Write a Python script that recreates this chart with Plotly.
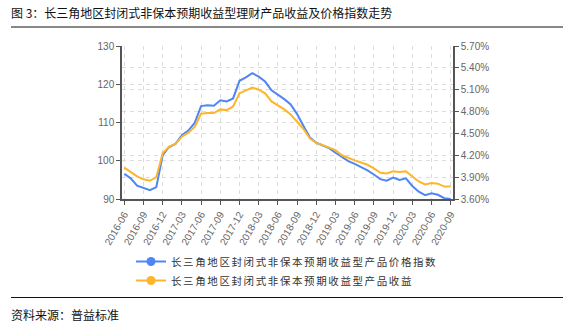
import plotly.graph_objects as go

# Monthly observations, 2016-06 .. 2020-09
months = [f"{y}-{m:02d}" for y in range(2016, 2021) for m in range(1, 13)]
months = months[months.index("2016-06"):months.index("2020-09") + 1]

price_index = [96.6, 95.4, 93.5, 92.8, 92.3, 93.1, 101.5, 103.6, 104.4, 106.7, 107.9, 109.9,
               114.3, 114.5, 114.4, 115.8, 115.5, 116.3, 120.9, 121.8, 122.9, 122.0, 120.7, 118.4,
               117.3, 116.1, 114.7, 112.2, 109.1, 106.1, 104.7, 103.9, 103.3, 102.1, 100.9, 99.9,
               99.2, 98.4, 97.5, 96.4, 95.2, 94.8, 95.6, 95.0, 95.4, 93.4, 91.9, 91.0,
               91.5, 91.1, 90.2, 90.0]

yield_pct = [4.03, 3.975, 3.91, 3.87, 3.85, 3.90, 4.23, 4.32, 4.355, 4.455, 4.51, 4.59,
             4.77, 4.78, 4.78, 4.83, 4.82, 4.87, 5.05, 5.09, 5.13, 5.10, 5.05, 4.94,
             4.89, 4.83, 4.76, 4.66, 4.56, 4.43, 4.37, 4.34, 4.31, 4.27, 4.20, 4.16,
             4.13, 4.10, 4.07, 4.02, 3.96, 3.95, 3.98, 3.97, 3.98, 3.91, 3.84, 3.80,
             3.82, 3.81, 3.77, 3.77]

series_names = ["长三角地区封闭式非保本预期收益型产品价格指数",
                "长三角地区封闭式非保本预期收益型产品收益"]
left_ticks = [90, 100, 110, 120, 130]
right_ticks = [3.60, 3.90, 4.20, 4.50, 4.80, 5.10, 5.40, 5.70]
x_ticks = months[::3]

title_text = "图 3：长三角地区封闭式非保本预期收益型理财产品收益及价格指数走势"
source_text = "资料来源：普益标准"

BLUE = "#4F86F3"
GOLD = "#FDB62C"
AXIS = "#555555"
TICKTXT = "#666666"
GRID = "#DCDCDC"

W, H = 577, 324
L, R, T, B = 122, 453, 46, 199


def px(x):
    return (x - L) / (R - L)


def py(y):
    return (B - y) / (B - T)


fig = go.Figure()

fig.add_trace(go.Scatter(x=months, y=price_index, mode="lines", showlegend=False,
                         line=dict(color=BLUE, width=2), yaxis="y"))
fig.add_trace(go.Scatter(x=months, y=yield_pct, mode="lines", showlegend=False,
                         line=dict(color=GOLD, width=2), yaxis="y2"))

# legend entries (line + dot symbol)
for name, color in zip(series_names, [BLUE, GOLD]):
    fig.add_trace(go.Scatter(
        x=[None], y=[None], mode="lines+markers",
        name=f'<span style="letter-spacing:1.6px">{name}</span>',
        line=dict(color=color, width=2), marker=dict(color=color, size=9),
    ))

tick_font = dict(family="Liberation Sans, Arial, sans-serif", size=10, color=TICKTXT)

fig.update_layout(
    width=W, height=H,
    margin=dict(l=L, r=W - R, t=T, b=H - B, pad=0),
    paper_bgcolor="white", plot_bgcolor="white",
    font=dict(family="Noto Sans CJK SC, sans-serif"),
    xaxis=dict(
        type="category", range=[-0.36, len(months) - 1 + 0.36],
        tickmode="array", tickvals=x_ticks, ticktext=x_ticks, tickangle=-60,
        tickfont=tick_font, ticks="outside", ticklen=4, tickcolor=AXIS,
        showline=True, linecolor=AXIS, linewidth=1.5,
        showgrid=True, gridcolor=GRID, griddash="4px,4px", gridwidth=1,
        zeroline=False,
    ),
    yaxis=dict(
        range=[90, 130], tickvals=left_ticks, tickfont=tick_font,
        ticks="outside", ticklen=4, tickcolor=AXIS,
        showline=True, linecolor=AXIS, linewidth=1.5,
        showgrid=True, gridcolor=GRID, griddash="4px,4px", gridwidth=1,
        zeroline=False,
    ),
    yaxis2=dict(
        overlaying="y", side="right", range=[3.6, 5.7],
        tickvals=right_ticks, ticktext=[f"{v:.2f}%" for v in right_ticks],
        tickfont=tick_font, ticks="outside", ticklen=4, tickcolor=AXIS,
        showline=True, linecolor=AXIS, linewidth=1.5,
        showgrid=True, gridcolor=GRID, griddash="4px,4px", gridwidth=1,
        zeroline=False,
    ),
    legend=dict(
        x=px(131), xanchor="left", y=py(247), yanchor="top",
        orientation="v", bgcolor="rgba(0,0,0,0)",
        font=dict(family="Noto Sans CJK SC, sans-serif", size=10.5, color="#333333"),
        itemwidth=30,
    ),
    showlegend=True,
)

fig.add_annotation(text=title_text, xref="paper", yref="paper",
                   x=px(9), y=py(12.5), xanchor="left", yanchor="middle", showarrow=False,
                   font=dict(family="Noto Sans CJK SC, sans-serif", size=12, color="#111111"))
fig.add_annotation(text=source_text, xref="paper", yref="paper",
                   x=px(9), y=py(314), xanchor="left", yanchor="middle", showarrow=False,
                   font=dict(family="Noto Sans CJK SC, sans-serif", size=12, color="#111111"))

for yline in (27, 297.5):
    fig.add_shape(type="line", xref="paper", yref="paper",
                  x0=px(11), x1=px(563), y0=py(yline), y1=py(yline),
                  line=dict(color="#111111", width=1))

fig.write_html("out.html")
